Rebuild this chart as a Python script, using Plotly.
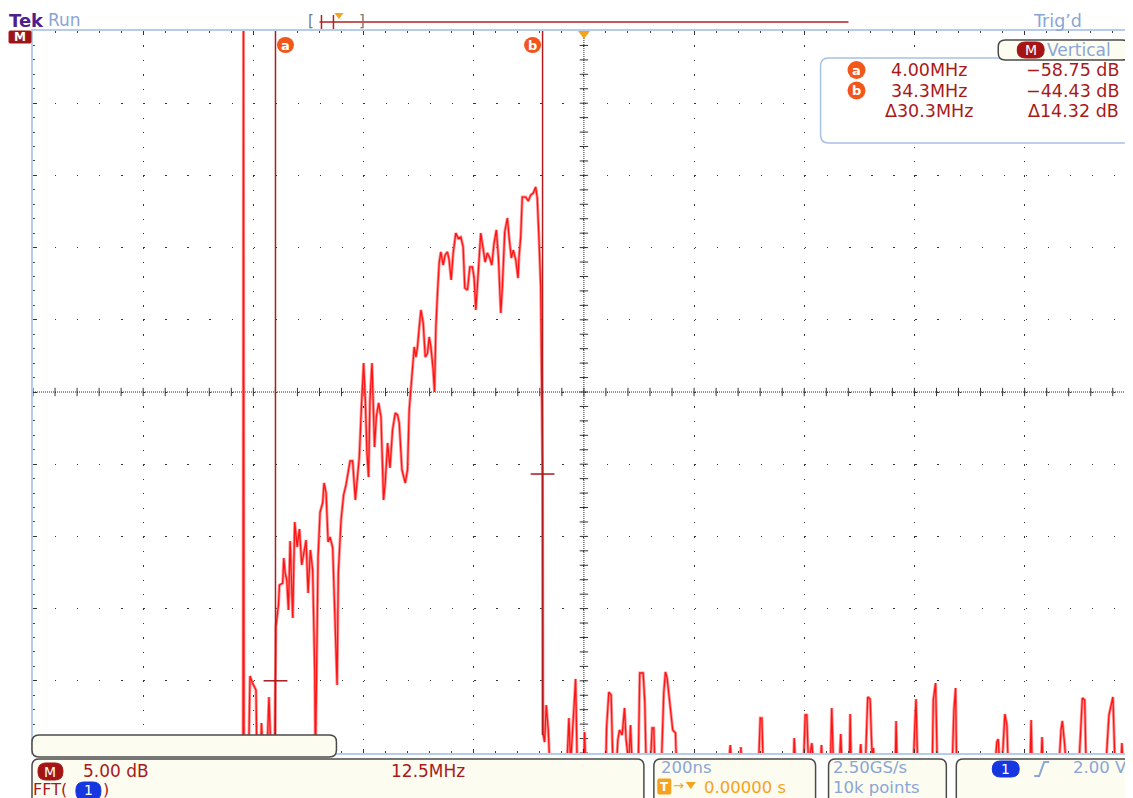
import plotly.graph_objects as go

# FFT(1) spectrum: frequency in MHz, level in dB.
# -64.5 means the trace is under the bottom edge, -12 means above the top.
FREQ_MHZ = [
    -0.76, 0.32, 0.37, 0.43, 0.94, 1.11, 1.39, 1.79, 1.90, 2.30, 2.41, 2.53, 2.64, 3.09, 3.26, 3.43, 3.54, 3.90,
    4.00, 4.05, 4.34, 4.45, 4.82, 4.94, 5.10, 5.28, 5.47, 5.66, 5.96, 6.18, 6.46, 6.72, 6.98, 7.25, 7.47, 7.70,
    7.96, 8.22, 8.45, 8.53, 8.72, 8.83, 9.06, 9.35, 9.51, 9.74, 9.97, 10.19, 10.49, 10.71, 10.87, 10.99, 11.13,
    11.44, 11.73, 12.00, 12.46, 12.75, 13.06, 13.51, 13.77, 14.00, 14.19, 14.38, 14.56, 14.72, 14.95, 15.10,
    15.24, 15.44, 15.70, 15.97, 16.15, 16.26, 16.45, 16.72, 16.99, 17.28, 17.59, 17.85, 18.04, 18.35, 18.72,
    18.98, 19.17, 19.48, 19.74, 19.93, 20.11, 20.31, 20.50, 20.76, 20.99, 21.25, 21.44, 21.63, 21.89, 22.04,
    22.20, 22.38, 22.57, 22.76, 23.02, 23.25, 23.51, 23.70, 23.93, 24.16, 24.46, 24.72, 25.03, 25.29, 25.48,
    25.78, 26.05, 26.34, 26.53, 26.73, 26.99, 27.29, 27.55, 27.78, 28.04, 28.31, 28.54, 28.80, 29.06, 29.29,
    29.56, 29.74, 30.01, 30.31, 30.50, 30.76, 30.98, 31.26, 31.52, 31.63, 31.82, 32.00, 32.39, 32.68, 32.96,
    33.25, 33.52, 33.70, 33.90, 34.09, 34.20, 34.30, 34.35, 34.53, 34.72, 34.95, 35.11,
    37.07, 37.29, 37.48, 37.86, 38.05, 38.23, 38.99, 39.07, 39.18, 41.48, 41.56, 41.82, 42.08, 42.28, 42.70,
    42.84, 43.03, 43.33, 43.60, 43.78, 44.09, 44.28, 44.46, 45.16, 45.22, 45.33, 45.71, 45.90, 46.05, 46.54,
    46.73, 46.92, 47.03, 47.79, 48.05, 48.24, 48.43, 48.81, 49.07, 49.38, 49.49, 55.41, 55.60, 55.75, 56.77,
    56.80, 56.88, 58.81, 59.00, 59.18, 59.32, 62.77, 62.85, 63.00, 63.91, 64.10, 64.28, 64.47, 64.85, 65.04,
    65.83, 65.94, 66.06, 66.96, 67.11, 67.30, 67.98, 68.13, 68.27, 69.11, 69.20, 69.31, 70.25, 70.40, 70.53,
    70.93, 71.19, 71.46, 71.72, 71.83, 71.95, 74.32, 74.41, 74.52, 76.37, 76.56, 76.67, 76.85, 78.52, 78.63,
    78.89, 79.08, 80.78, 80.97, 81.16, 81.27, 85.65, 85.84, 85.99, 86.18, 86.44, 86.75, 86.98, 87.12, 89.61,
    89.73, 89.84, 90.86, 90.97, 91.09, 92.90, 93.12, 93.27, 93.54, 93.69, 95.16, 95.39, 95.54, 95.81, 95.96,
    98.22, 98.56, 99.01, 99.24, 99.92, 100.03, 100.14, 100.71, 100.97, 101.16,
]
LEVEL_DB = [
    -64.5, -64.5, -12.0, -64.5, -64.5, -58.42, -58.90, -59.39, -64.5, -64.5, -61.67, -62.85, -64.5, -62.85,
    -59.87, -62.85, -64.5, -64.5,
    -58.75, -55.02, -53.50, -52.12, -51.98, -50.25, -51.28, -51.77, -53.85, -49.07, -54.40, -47.75, -49.48,
    -48.24, -50.73, -49.83, -49.00, -52.67,
    -49.69, -51.08, -58.00, -64.5, -52.95, -50.18, -47.06, -46.44, -45.05, -45.74, -49.14, -48.79, -49.55,
    -53.36, -57.52, -59.04, -51.28,
    -47.61, -45.88, -45.19, -43.53, -43.53, -46.23, -43.25, -39.51, -36.74, -39.30, -42.97, -44.64, -39.30,
    -36.74, -39.51,
    -42.56, -40.48, -39.51, -40.48, -43.46, -46.23, -45.05, -42.28, -44.01, -41.38, -40.20, -40.34, -40.90,
    -44.15, -45.05,
    -44.15, -40.00, -37.92, -35.63, -36.33, -35.63, -34.25, -33.07, -33.97, -36.33, -36.05, -34.94, -35.63,
    -37.23, -38.75,
    -34.25, -31.89, -29.82, -29.05, -29.96, -29.26, -29.05, -29.61, -30.99, -29.12, -27.74, -28.09, -28.02,
    -28.71, -31.55,
    -31.69, -30.09, -30.09, -30.79, -33.07, -30.30, -27.74, -28.78, -29.75, -29.12, -29.47, -29.96, -28.43,
    -27.53, -29.40,
    -33.28, -31.48, -27.67, -26.70, -28.02, -29.47, -28.92, -29.61, -30.86, -29.40, -28.02, -25.25, -25.25,
    -25.52, -25.11,
    -24.97, -24.55, -25.32, -28.22, -31.48, -38.13, -44.43, -62.36, -62.99, -60.43, -62.16, -64.5,
    -64.5, -61.33, -64.5, -60.63, -58.62, -64.5, -64.5, -62.30, -64.5, -64.5, -62.02, -59.53, -59.73, -64.5,
    -64.5,
    -62.85, -62.16, -62.50, -60.63, -62.85, -64.5, -61.81, -64.5, -64.5, -61.12, -58.21, -58.21, -60.22,
    -64.5, -64.5,
    -62.02, -62.02, -64.5, -64.5, -59.59, -58.14, -58.56, -60.56, -62.16, -62.36, -64.5, -64.5, -63.20,
    -64.5, -64.5,
    -63.33, -64.5, -64.5, -61.33, -61.33, -64.5, -64.5, -62.71, -64.5, -64.5, -61.12, -61.12, -64.5, -63.06,
    -64.5,
    -64.5, -63.20, -64.5, -64.5, -60.63, -64.5, -64.5, -62.43, -64.5, -64.5, -61.05, -64.5, -64.5, -63.13,
    -64.5,
    -64.5, -59.87, -60.01, -64.5, -63.40, -64.5, -64.5, -61.53, -64.5, -64.5, -61.46, -60.01, -64.5, -64.5,
    -60.08,
    -58.90, -64.5, -64.5, -60.77, -59.25, -64.5, -64.5, -62.99, -62.78, -64.5, -64.5, -61.05, -61.81, -64.5,
    -64.5,
    -61.46, -64.5, -64.5, -62.64, -64.5, -64.5, -62.16, -61.53, -63.20, -64.5, -64.5, -61.05, -59.94, -60.08,
    -64.5,
    -64.5, -61.12, -59.87, -64.5, -64.5, -63.06, -64.5, -64.5, -61.60, -60.08,
]

CURSOR_NAMES = ["a", "b"]
CURSOR_FREQ = [4.00, 34.3]
CURSOR_DB = [-58.75, -44.43]
READOUT_FREQ = ["4.00MHz", "34.3MHz", "\u039430.3MHz"]
READOUT_DB = ["\u221258.75 dB", "\u221244.43 dB", "\u039414.32 dB"]

X_RANGE = [-23.51, 101.06]
Y_RANGE = [-63.75, -13.75]
MHZ_PER_DIV = 12.5
DB_PER_DIV = 5.0
X_CENTER = 38.99
Y_CENTER = -38.75

# the page puts the figure 8px in from its top-left corner
OFF = 8
W, H = 1133 - OFF, 798 - OFF
PL, PT, PR, PB = 33, 31, 1133, 753

RED = "#ff1414"
DARK_RED = "#a81a1a"
BLUE_GREY = "#8aa5d6"
ORANGE = "#f5a21c"
CURSOR_ORANGE = "#f2561a"
CREAM = "#fdfcf1"
EDGE = "#4a4a4a"
FONT = "DejaVu Sans"


def px(x, y):
    return (x - PL) / (PR - PL), (PB - y) / (PB - PT)


def pt(x, y):
    a, b = px(x, y)
    return f"{a:.5f},{b:.5f}"


def box(x0, y0, x1, y1, r=7, fill=CREAM, line=EDGE, width=1.5):
    d = (f"M{pt(x0 + r, y0)} L{pt(x1 - r, y0)} Q{pt(x1, y0)} {pt(x1, y0 + r)} "
         f"L{pt(x1, y1 - r)} Q{pt(x1, y1)} {pt(x1 - r, y1)} L{pt(x0 + r, y1)} "
         f"Q{pt(x0, y1)} {pt(x0, y1 - r)} L{pt(x0, y0 + r)} Q{pt(x0, y0)} {pt(x0 + r, y0)} Z")
    return dict(type="path", xref="paper", yref="paper", path=d, fillcolor=fill,
                line=dict(color=line, width=width), layer="above")


def poly(points, fill):
    d = "M" + " L".join(pt(x, y) for x, y in points) + " Z"
    return dict(type="path", xref="paper", yref="paper", path=d, fillcolor=fill,
                line=dict(width=0), layer="above")


def seg(x0, y0, x1, y1, color, width=1.5):
    a0, b0 = px(x0, y0)
    a1, b1 = px(x1, y1)
    return dict(type="line", xref="paper", yref="paper", x0=a0, y0=b0, x1=a1, y1=b1,
                line=dict(color=color, width=width), layer="above")


def disc(cx, cy, r, color):
    x0, y0 = px(cx - r, cy + r)
    x1, y1 = px(cx + r, cy - r)
    return dict(type="circle", xref="paper", yref="paper", x0=x0, y0=y0, x1=x1, y1=y1,
                fillcolor=color, line=dict(width=0), layer="above")


def label(x, y, text, color, size=17, anchor="left", bold=False):
    a, b = px(x, y)
    return dict(xref="paper", yref="paper", x=a, y=b, text=f"<b>{text}</b>" if bold else text,
                showarrow=False, xanchor=anchor, yanchor="middle", borderpad=0,
                font=dict(family=FONT, size=size, color=color))


fig = go.Figure()

# ticks along the centre cross of the graticule
n_x = int(round((X_RANGE[1] - X_RANGE[0]) / 2.5)) + 1
n_y = int(round((Y_RANGE[1] - Y_RANGE[0]) / 1.0)) + 1
fig.add_trace(go.Scatter(
    x=[X_RANGE[0] + 2.5 * i for i in range(n_x)], y=[Y_CENTER] * n_x, mode="markers",
    marker=dict(symbol="line-ns", size=6, line=dict(color="#333", width=1)), hoverinfo="skip"))
fig.add_trace(go.Scatter(
    x=[X_CENTER] * n_y, y=[Y_RANGE[0] + 1.0 * i for i in range(n_y)], mode="markers",
    marker=dict(symbol="line-ew", size=6, line=dict(color="#333", width=1)), hoverinfo="skip"))

# spectrum: soft halo under a sharp red core, like the scope's rendering
fig.add_trace(go.Scatter(x=FREQ_MHZ, y=LEVEL_DB, mode="lines",
                         line=dict(color="rgba(255,110,110,0.75)", width=3), hoverinfo="skip"))
fig.add_trace(go.Scatter(x=FREQ_MHZ, y=LEVEL_DB, mode="lines",
                         line=dict(color=RED, width=1.3), hoverinfo="skip"))

# cursor crosses on the trace
fig.add_trace(go.Scatter(x=CURSOR_FREQ, y=CURSOR_DB, mode="markers", cliponaxis=False,
                         marker=dict(symbol="line-ew", size=17, line=dict(color=DARK_RED, width=1.5)),
                         hoverinfo="skip"))

shapes = []
annotations = []

# centre cross, dotted
shapes.append(dict(type="line", xref="paper", yref="y", x0=0, x1=1, y0=Y_CENTER, y1=Y_CENTER,
                   line=dict(color="#222", width=1, dash="1px,1px"), layer="below"))
shapes.append(dict(type="line", xref="x", yref="paper", x0=X_CENTER, x1=X_CENTER, y0=0, y1=1,
                   line=dict(color="#222", width=1, dash="1px,1px"), layer="below"))

# cursor lines and their badges
bottom_y = px(0, 735)[1]
for name, f, side in zip(CURSOR_NAMES, CURSOR_FREQ, [1, -1]):
    shapes.append(dict(type="line", xref="x", yref="paper", x0=f, x1=f, y0=bottom_y, y1=1,
                       line=dict(color="#b01c1c", width=1.5), layer="above"))
    shapes.append(dict(type="circle", xref="x", yref="paper", xsizemode="pixel", ysizemode="pixel",
                       xanchor=f, yanchor=1, x0=side * 1.5, x1=side * 18.5, y0=-22, y1=-6,
                       fillcolor=CURSOR_ORANGE, line=dict(width=0), layer="above"))
    annotations.append(dict(xref="x", yref="paper", x=f, y=1, xshift=side * 10, yshift=-14,
                            text=f"<b>{name}</b>", showarrow=False, xanchor="center", yanchor="middle",
                            font=dict(family=FONT, size=13, color="white")))

# trigger marker on top of the graticule
shapes.append(poly([(579, 31), (591, 31), (585, 39)], ORANGE))

# channel tag on the left
shapes.append(box(9, 31, 31, 43, r=1, fill="#9e1414", line="#9e1414", width=1))
annotations.append(label(20, 37.5, "M", "white", size=12, anchor="center", bold=True))

# top status line
annotations.append(label(8, 20, "Tek", "#4f1f8c", size=18, bold=True))
annotations.append(label(47, 20, "Run", BLUE_GREY, size=17))
annotations.append(label(1034, 21, "Trig\u2019d", BLUE_GREY, size=17.5))
annotations.append(label(312, 21, "[", "#777", size=15, anchor="center"))
annotations.append(label(363, 21, "]", "#777", size=15, anchor="center"))
shapes.append(seg(320, 22, 850, 22, "#b52020", 1.5))
shapes.append(seg(322, 15, 322, 29, "#b52020", 1.5))
shapes.append(seg(334, 15, 334, 29, "#b52020", 1.5))
shapes.append(poly([(335, 13), (344, 13), (339.5, 19)], ORANGE))

# cursor readout panel
shapes.append(box(822, 58, 1133, 143, r=8, fill="white", line="#a9c0e6", width=1.5))
shapes.append(box(1000, 40, 1131, 60, r=7, fill=CREAM, line=EDGE, width=1.5))
shapes.append(box(1019, 42, 1046, 58, r=8, fill="#a51414", line="#a51414", width=1))
annotations.append(label(1032.5, 50, "M", "white", size=14, anchor="center"))
annotations.append(label(1048, 50, "Vertical", BLUE_GREY, size=17))
for i, name in enumerate(CURSOR_NAMES):
    yy = 70 + 20.5 * i
    shapes.append(disc(858, yy, 9, CURSOR_ORANGE))
    annotations.append(label(858, yy, f"<b>{name}</b>", "white", size=13, anchor="center"))
for i, (fq, lv) in enumerate(zip(READOUT_FREQ, READOUT_DB)):
    yy = 70 + 20.5 * i
    annotations.append(label(931, yy, fq, DARK_RED, size=17.5, anchor="center"))
    annotations.append(label(1122, yy, lv, DARK_RED, size=17.5, anchor="right"))

# bottom panels
shapes.append(box(32, 735, 337, 757, r=7))
shapes.append(box(32, 759, 645, 815, r=7))
shapes.append(box(655, 759, 817, 815, r=7))
shapes.append(box(830, 759, 948, 815, r=7))
shapes.append(box(958, 759, 1145, 815, r=7))

shapes.append(box(38, 763, 63, 780, r=8, fill="#a51414", line="#a51414", width=1))
annotations.append(label(50.5, 771.5, "M", "white", size=14, anchor="center"))
annotations.append(label(82, 771, "5.00 dB", DARK_RED))
annotations.append(label(391, 771, "12.5MHz", DARK_RED))
annotations.append(label(32, 789, "FFT(", DARK_RED, size=16))
shapes.append(box(76, 782, 101, 800, r=8, fill="#1636e0", line="#1636e0", width=1))
annotations.append(label(88.5, 790, "1", "white", size=14, anchor="center"))
annotations.append(label(102, 789, ")", DARK_RED, size=16))

annotations.append(label(661, 768, "200ns", BLUE_GREY, size=16.5))
shapes.append(box(659, 779, 672, 794, r=1, fill=ORANGE, line=ORANGE, width=1))
annotations.append(label(665.5, 786.5, "<b>T</b>", "white", size=12, anchor="center"))
annotations.append(label(673, 785, "\u2192", ORANGE, size=13))
shapes.append(poly([(687, 782), (697, 782), (692, 789)], ORANGE))
annotations.append(label(704, 787, "0.00000 s", ORANGE, size=16.5))

annotations.append(label(833, 768, "2.50GS/s", BLUE_GREY, size=16.5))
annotations.append(label(833, 787, "10k points", BLUE_GREY, size=16.5))

shapes.append(box(994, 761, 1021, 777, r=8, fill="#1636e0", line="#1636e0", width=1))
annotations.append(label(1007.5, 769, "1", "white", size=14, anchor="center"))
shapes.append(dict(type="path", xref="paper", yref="paper",
                   path=f"M{pt(1036, 776)} L{pt(1041, 776)} L{pt(1046, 762)} L{pt(1051, 762)}",
                   line=dict(color=BLUE_GREY, width=2), layer="above"))
annotations.append(label(1130, 768, "2.00 V", BLUE_GREY, size=16.5, anchor="right"))

fig.update_layout(
    width=W, height=H,
    margin=dict(l=PL - OFF, r=W + OFF - PR, t=PT - OFF, b=H + OFF - PB),
    paper_bgcolor="white", plot_bgcolor="white",
    showlegend=False, hovermode=False,
    shapes=shapes, annotations=annotations,
)
fig.update_xaxes(
    range=X_RANGE, tick0=X_RANGE[0], dtick=MHZ_PER_DIV, showticklabels=False,
    showgrid=True, gridcolor="#333", gridwidth=1.3, griddash="1.3px,13.14px",
    ticks="inside", ticklen=4, tickcolor="#333", zeroline=False,
    showline=True, linecolor="#b7cbeb", linewidth=1.5, mirror="allticks",
    minor=dict(tick0=X_RANGE[0], dtick=2.5, ticks="inside", ticklen=2, tickcolor="#444", showgrid=False),
)
fig.update_yaxes(
    range=Y_RANGE, tick0=Y_RANGE[0], dtick=DB_PER_DIV, showticklabels=False,
    showgrid=True, gridcolor="#333", gridwidth=1.3, griddash="1.3px,20.76px",
    ticks="inside", ticklen=4, tickcolor="#333", zeroline=False,
    showline=True, linecolor="#b7cbeb", linewidth=1.5, mirror="allticks",
    minor=dict(tick0=Y_RANGE[0], dtick=1.0, ticks="inside", ticklen=2, tickcolor="#444", showgrid=False),
)

fig.write_html("out.html")
